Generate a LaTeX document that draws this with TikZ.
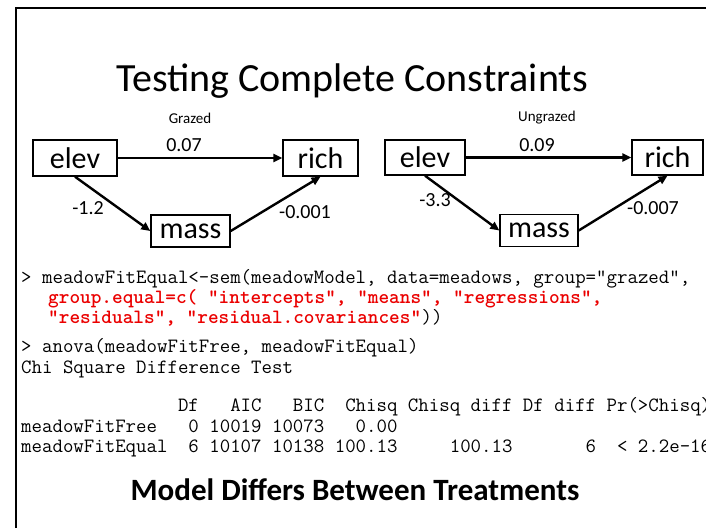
\documentclass[tikz,border=0pt]{standalone}
\usepackage{fontspec}
\setmainfont{Carlito}
\usetikzlibrary{arrows.meta}
\definecolor{codered}{RGB}{235,0,0}
\tikzset{
  var/.style={draw=black, line width=1.4pt, inner sep=0pt, font=\fontsize{30}{32}\selectfont},
  path/.style={line width=2.4pt, -{Triangle[length=9pt,width=8pt]}},
  coef/.style={font=\fontsize{20}{22}\selectfont},
  grp/.style={font=\fontsize{15}{17}\selectfont},
  code/.style={anchor=base west, inner sep=0pt, font=\fontsize{20.3}{22}\ttfamily},
  redcode/.style={code, text=codered, font=\fontsize{20.3}{22}\ttfamily\bfseries},
  headline/.style={font=\fontsize{40}{44}\selectfont, anchor=base},
}
\begin{document}
\begin{tikzpicture}[x=1pt, y=-1pt]
\useasboundingbox (0,0) rectangle (706,528);
\clip (0,0) rectangle (706,528);
\fill[white] (0,0) rectangle (706,528);

% slide frame
\draw[line width=2.5pt] (16,528) -- (16,8) -- (710,8);

% title
\node[headline] (title) at (352,91) {Testing Complete Constraints};

% grazed model
\node[grp] (g1) at (190,118) {Grazed};
\node[var, minimum width=84pt, minimum height=36pt] (elevA) at (75,158) {elev};
\node[var, minimum width=75pt, minimum height=36pt] (richA) at (320.5,158) {rich};
\node[var, minimum width=79pt, minimum height=32pt] (massA) at (190.5,231) {mass};
\draw[path] (elevA.east) -- (richA.west);
\draw[path] (elevA.south) -- (massA.west);
\draw[path] (massA.east) -- (richA.south);
\node[coef] (cA1) at (184,145) {0.07};
\node[coef] (cA2) at (88,208) {-1.2};
\node[coef] (cA3) at (305,212) {-0.001};

% ungrazed model
\node[grp] (g2) at (547,118) {Ungrazed};
\node[var, minimum width=80pt, minimum height=35pt] (elevB) at (425,157.5) {elev};
\node[var, minimum width=71pt, minimum height=35pt] (richB) at (667.5,157.5) {rich};
\node[var, minimum width=78pt, minimum height=32pt] (massB) at (539,230.5) {mass};
\draw[path] (elevB.east) -- (richB.west);
\draw[path] (elevB.south) -- (massB.west);
\draw[path] (massB.east) -- (richB.south);
\node[coef] (cB1) at (537,145) {0.09};
\node[coef] (cB2) at (435,200) {-3.3};
\node[coef] (cB3) at (653,208) {-0.007};

% R console
\node[code] (l1) at (21,283) {> meadowFitEqual<-sem(meadowModel, data=meadows, group="grazed",};
\node[redcode] (l2) at (48,303) {group.equal=c( "intercepts", "means", "regressions",};
\node[redcode] (l3) at (48,323) {"residuals", "residual.covariances"};
\node[code] (l3b) at (l3.base east) {))};
\node[code] (l4) at (21,352) {> anova(meadowFitFree, meadowFitEqual)};
\node[code] (l5) at (21,373) {Chi Square Difference Test};
\node[code] (l6) at (21,411) {~~~~~~~~~~~~~~~Df~~~AIC~~~BIC~~Chisq Chisq diff Df diff Pr(>Chisq)};
\node[code] (l7) at (21,432) {meadowFitFree~~~0 10019 10073~~~0.00};
\node[code] (l8) at (21,452) {meadowFitEqual~~6 10107 10138 100.13~~~~~100.13~~~~~~~6~~< 2.2e-16};

% conclusion
\node[anchor=base, font=\fontsize{31}{34}\selectfont\bfseries] (concl) at (355,500) {Model Differs Between Treatments};
\end{tikzpicture}
\end{document}
